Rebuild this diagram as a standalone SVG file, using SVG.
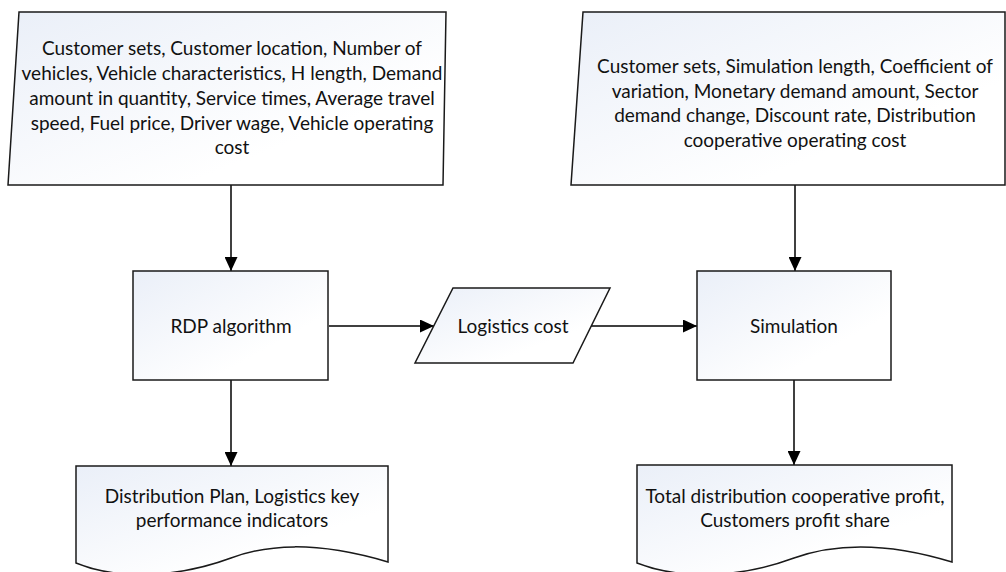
<svg xmlns="http://www.w3.org/2000/svg" width="1006" height="572" viewBox="0 0 1006 572">
<defs>
<linearGradient id="fillg" x1="0" y1="0" x2="1" y2="1">
<stop offset="0" stop-color="#eaeff8"/>
<stop offset="0.7" stop-color="#ffffff"/>
</linearGradient>
<marker id="arr" markerUnits="userSpaceOnUse" markerWidth="14" markerHeight="13" refX="14" refY="6.5" orient="auto">
<path d="M0,0 L14,6.5 L0,13 z" fill="#000"/>
</marker>
</defs>
<style>
.shape{fill:url(#fillg);stroke:#1a1a1a;stroke-width:1.5}
.conn{fill:none;stroke:#000;stroke-width:1.5;marker-end:url(#arr)}
text{font-family:Lato,"Liberation Sans",sans-serif;font-size:19px;fill:#111;text-anchor:middle}
</style>
<rect width="1006" height="572" fill="#ffffff"/>
<g id="connectors">
<path class="conn" d="M231,185 V271"/>
<path class="conn" d="M795,185 V271"/>
<path class="conn" d="M231,380 V466"/>
<path class="conn" d="M794,380 V465"/>
<path class="conn" d="M329,326 H434"/>
<path class="conn" d="M591,326 H697"/>
</g>
<g id="input-left">
<polygon class="shape" points="19,12 446,12 443,185 8,185"/>
<text x="232" y="55">Customer sets, Customer location, Number of</text>
<text x="232" y="80">vehicles, Vehicle characteristics, H length, Demand</text>
<text x="232" y="105">amount in quantity, Service times, Average travel</text>
<text x="232" y="130">speed, Fuel price, Driver wage, Vehicle operating</text>
<text x="232" y="154">cost</text>
</g>
<g id="input-right">
<polygon class="shape" points="583,12 1005,12 1005,185 571,185"/>
<text x="795" y="73">Customer sets, Simulation length, Coefficient of</text>
<text x="795" y="98">variation, Monetary demand amount, Sector</text>
<text x="795" y="122">demand change, Discount rate, Distribution</text>
<text x="795" y="147">cooperative operating cost</text>
</g>
<g id="rdp">
<rect class="shape" x="133" y="271" width="195" height="109"/>
<text x="231" y="333">RDP algorithm</text>
</g>
<g id="logistics-cost">
<polygon class="shape" points="453,288 610,288 573,363 415,363"/>
<text x="513" y="333">Logistics cost</text>
</g>
<g id="simulation">
<rect class="shape" x="697" y="271" width="194" height="109"/>
<text x="794" y="333">Simulation</text>
</g>
<g id="output-left">
<path class="shape" d="M76,466 H388 V562 C313,540 266,545 231,558 C177,578 117,580 76,563 Z"/>
<text x="232" y="503">Distribution Plan, Logistics key</text>
<text x="232" y="527">performance indicators</text>
</g>
<g id="output-right">
<path class="shape" d="M637,465 H952 V562 C880,540 830,545 794,558 C740,578 680,580 637,563 Z"/>
<text x="795" y="503">Total distribution cooperative profit,</text>
<text x="795" y="527">Customers profit share</text>
</g>
</svg>
